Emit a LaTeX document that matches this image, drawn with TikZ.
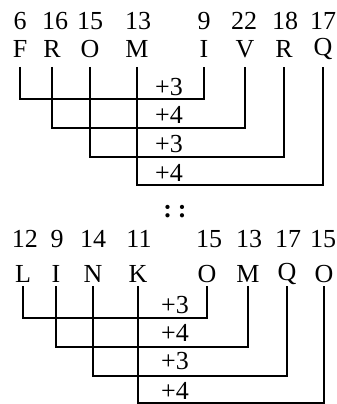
\documentclass[tikz,border=0pt]{standalone}
\usepackage{fontspec}
\setmainfont{Liberation Serif}
\usepackage{tikz}
\usetikzlibrary{positioning}

\begin{document}
\begin{tikzpicture}[
	x=1pt, y=-1pt,
	font=\fontsize{26}{26}\selectfont,
	% Style for the number above each letter
	num/.style={anchor=base, inner sep=0pt},
	% Style for the letters
	ltr/.style={anchor=base, inner sep=0pt},
	% Style for the shift labels
	shiftlbl/.style={anchor=base, inner sep=0pt},
	% Style for the bracket lines
	bar/.style={line width=2pt, line join=miter}
	]
	\useasboundingbox (0,0) rectangle (337,404);
	
	% 1. Top word: numbers
	\node[num] (n1) at (20,30) {6};
	\node[num] (n2) at (55,30) {16};
	\node[num] (n3) at (90,30) {15};
	\node[num] (n4) at (138,30) {13};
	\node[num] (n5) at (204,30) {9};
	\node[num] (n6) at (244,30) {22};
	\node[num] (n7) at (285,30) {18};
	\node[num] (n8) at (323,30) {17};
	
	% 2. Top word: letters
	\node[ltr] (F) at (20,58) {F};
	\node[ltr] (R) at (52,58) {R};
	\node[ltr] (O) at (90,58) {O};
	\node[ltr] (M) at (137,58) {M};
	\node[ltr] (I) at (204,58) {I};
	\node[ltr] (V) at (245,58) {V};
	\node[ltr] (R2) at (284,58) {R};
	\node[ltr] (Q) at (323,56) {Q};
	
	% Rows where the brackets start and turn
	\coordinate (top) at (0,67);
	\coordinate (b1) at (0,99);
	\coordinate (b2) at (0,128);
	\coordinate (b3) at (0,157);
	\coordinate (b4) at (0,185);
	
	% 3. Top brackets
	\draw[bar] (F |- top) -- (F |- b1) -| (I |- top);
	\draw[bar] (R |- top) -- (R |- b2) -| (V |- top);
	\draw[bar] (O |- top) -- (O |- b3) -| (R2 |- top);
	\draw[bar] (M |- top) -- (M |- b4) -| (Q |- top);
	
	% 4. Top shift labels
	\node[shiftlbl] (s1) at (169,95) {+3};
	\node[shiftlbl] (s2) at (169,123) {+4};
	\node[shiftlbl] (s3) at (169,152) {+3};
	\node[shiftlbl] (s4) at (169,181) {+4};
	
	% 5. Separator
	\node[inner sep=0pt] (sep) at (175,212) {\bfseries :\hspace{6pt}:};
	
	% 6. Bottom word: numbers
	\node[num] (m1) at (25,247) {12};
	\node[num] (m2) at (57,247) {9};
	\node[num] (m3) at (93,247) {14};
	\node[num] (m4) at (139,247) {11};
	\node[num] (m5) at (209,247) {15};
	\node[num] (m6) at (249,247) {13};
	\node[num] (m7) at (288,247) {17};
	\node[num] (m8) at (323,247) {15};
	
	% 7. Bottom word: letters
	\node[ltr] (L) at (23,282) {L};
	\node[ltr] (I2) at (56,282) {I};
	\node[ltr] (N) at (93,282) {N};
	\node[ltr] (K) at (138,282) {K};
	\node[ltr] (O2) at (207,282) {O};
	\node[ltr] (M2) at (248,282) {M};
	\node[ltr] (Q2) at (287,280) {Q};
	\node[ltr] (O3) at (324,282) {O};
	
	\coordinate (top2) at (0,286);
	\coordinate (c1) at (0,318);
	\coordinate (c2) at (0,347);
	\coordinate (c3) at (0,376);
	\coordinate (c4) at (0,403);
	
	% 8. Bottom brackets
	\draw[bar] (L |- top2) -- (L |- c1) -| (O2 |- top2);
	\draw[bar] (I2 |- top2) -- (I2 |- c2) -| (M2 |- top2);
	\draw[bar] (N |- top2) -- (N |- c3) -| (Q2 |- top2);
	\draw[bar] (K |- top2) -- (K |- c4) -| (O3 |- top2);
	
	% 9. Bottom shift labels
	\node[shiftlbl] (t1) at (175,313) {+3};
	\node[shiftlbl] (t2) at (175,341) {+4};
	\node[shiftlbl] (t3) at (175,369) {+3};
	\node[shiftlbl] (t4) at (175,399) {+4};
	
\end{tikzpicture}
\end{document}
